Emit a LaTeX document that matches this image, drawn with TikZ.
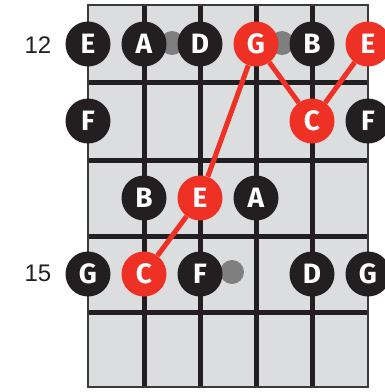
\documentclass[tikz,border=0pt]{standalone}
\usepackage{fontspec}
\setmainfont{Liberation Sans}
\newfontfamily\notefont{Fira Sans}
\usetikzlibrary{positioning}
\definecolor{boardgrey}{HTML}{DCDDDF}
\definecolor{edgegrey}{HTML}{3A3A3A}
\definecolor{noteblack}{HTML}{231F20}
\definecolor{notered}{HTML}{EE3124}
\definecolor{markgrey}{HTML}{7F7F7F}

\begin{document}
\begin{tikzpicture}[x=1pt, y=-1pt,
      note/.style={circle, fill=noteblack, text=white, minimum size=45pt, inner sep=0pt,
        font=\notefont\fontsize{28}{28}\selectfont\bfseries},
      rootnote/.style={note, fill=notered},
      marker/.style={circle, fill=markgrey, minimum size=24pt, inner sep=0pt},
      fretline/.style={line width=5pt, noteblack},
      scaleline/.style={line width=5pt, notered},
      fretno/.style={font=\fontsize{24}{24}\selectfont, text=noteblack}
  ]
    \useasboundingbox (0,0) rectangle (385,392);
    % fretboard
    \fill[boardgrey] (88,5) rectangle (368,387);
    \draw[fretline] (88,82) -- (368,82);
    \draw[fretline] (88,160) -- (368,160);
    \draw[fretline] (88,236) -- (368,236);
    \draw[fretline] (88,312) -- (368,312);
    \draw[fretline] (144,5) -- (144,387);
    \draw[fretline] (200,5) -- (200,387);
    \draw[fretline] (256,5) -- (256,387);
    \draw[fretline] (312,5) -- (312,387);
    \draw[edgegrey, line width=2.5pt] (88,5) rectangle (368,387);
    % inlay markers
    \node[marker] (mark12a) at (172,43) {};
    \node[marker] (mark12b) at (282,43) {};
    \node[marker] (mark15) at (232,272) {};
    % fret numbers
    \node[fretno] (num12) at (38,45) {12};
    \node[fretno] (num15) at (38,273) {15};
    % notes
    \node[note] (e12) at (88,44) {E};
    \node[note] (a12) at (144,44) {A};
    \node[note] (d12) at (200,44) {D};
    \node[rootnote] (g12) at (256,44) {G};
    \node[note] (b12) at (312,44) {B};
    \node[rootnote] (hie12) at (368,44) {E};
    \node[note] (f13) at (88,121) {F};
    \node[rootnote] (c13) at (312,121) {C};
    \node[note] (hif13) at (368,121) {F};
    \node[note] (b14) at (144,198) {B};
    \node[rootnote] (e14) at (200,198) {E};
    \node[note] (a14) at (256,198) {A};
    \node[note] (g15) at (88,274) {G};
    \node[rootnote] (c15) at (144,274) {C};
    \node[note] (f15) at (200,274) {F};
    \node[note] (d15) at (312,274) {D};
    \node[note] (hig15) at (368,274) {G};
    % scale shape
    \draw[scaleline] (c15) -- (e14);
    \draw[scaleline] (e14) -- (g12);
    \draw[scaleline] (g12) -- (c13);
    \draw[scaleline] (c13) -- (hie12);
\end{tikzpicture}
\end{document}
